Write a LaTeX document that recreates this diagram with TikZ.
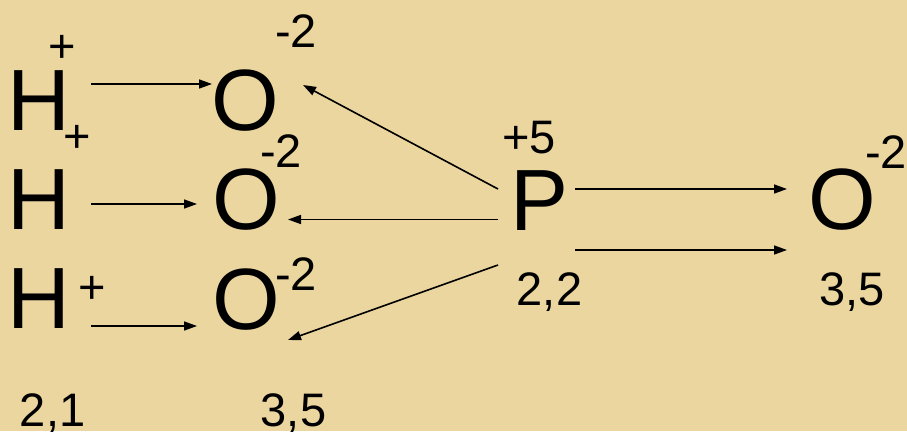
\documentclass[tikz,border=0pt]{standalone}
\usepackage{fontspec}
\setmainfont{Liberation Sans}
\usetikzlibrary{arrows.meta}
\definecolor{papyrus}{RGB}{236,214,160}
\begin{document}
\begin{tikzpicture}[x=1pt,y=-1pt,
  big/.style={inner sep=0pt, anchor=base, font=\fontsize{87}{90}\selectfont},
  small/.style={inner sep=0pt, anchor=base, font=\fontsize{47}{50}\selectfont},
  arr/.style={-{Triangle[length=13pt,width=9pt]}, line width=1.6pt, black}]
\fill[papyrus] (0,0) rectangle (907,431);
\useasboundingbox (0,0) rectangle (907,431);
% atoms
\node[big] (H1) at (39,130) {H};
\node[big] (H2) at (39,229) {H};
\node[big] (H3) at (39,328) {H};
\node[big] (O1) at (245,130) {O};
\node[big] (O2) at (246.5,229) {O};
\node[big] (O3) at (246.5,329) {O};
\node[big] (P) at (540,230) {P};
\node[big] (O4) at (842.5,229) {O};
% charges
\node[small] (p1) at (62.5,62) {+};
\node[small] (p2) at (77.5,152) {+};
\node[small] (p3) at (92.5,303) {+};
\node[small] (m1) at (296,47) {-2};
\node[small] (m2) at (281,167) {-2};
\node[small] (m3) at (296,290) {-2};
\node[small] (m4) at (886,168) {-2};
\node[small] (p5) at (529,153) {+5};
% electronegativities
\node[small] (e1) at (52.6,426) {2,1};
\node[small] (e2) at (293.5,426) {3,5};
\node[small] (e3) at (549.5,305) {2,2};
\node[small] (e4) at (852,305) {3,5};
% arrow end points
\coordinate (a1s) at (91,84);   \coordinate (a1e) at (212,84);
\coordinate (a2s) at (91,204);  \coordinate (a2e) at (197,204);
\coordinate (a3s) at (91,326);  \coordinate (a3e) at (197,326);
\coordinate (b1s) at (498,189); \coordinate (b1e) at (303,85);
\coordinate (b2s) at (498,219.5); \coordinate (b2e) at (288,219.5);
\coordinate (b3s) at (498,265); \coordinate (b3e) at (288,340);
\coordinate (c1s) at (575,189); \coordinate (c1e) at (787,189);
\coordinate (c2s) at (575,250); \coordinate (c2e) at (787,250);
\draw[arr] (a1s) -- (a1e);
\draw[arr] (a2s) -- (a2e);
\draw[arr] (a3s) -- (a3e);
\draw[arr] (b1s) -- (b1e);
\draw[arr] (b2s) -- (b2e);
\draw[arr] (b3s) -- (b3e);
\draw[arr] (c1s) -- (c1e);
\draw[arr] (c2s) -- (c2e);
\end{tikzpicture}
\end{document}
